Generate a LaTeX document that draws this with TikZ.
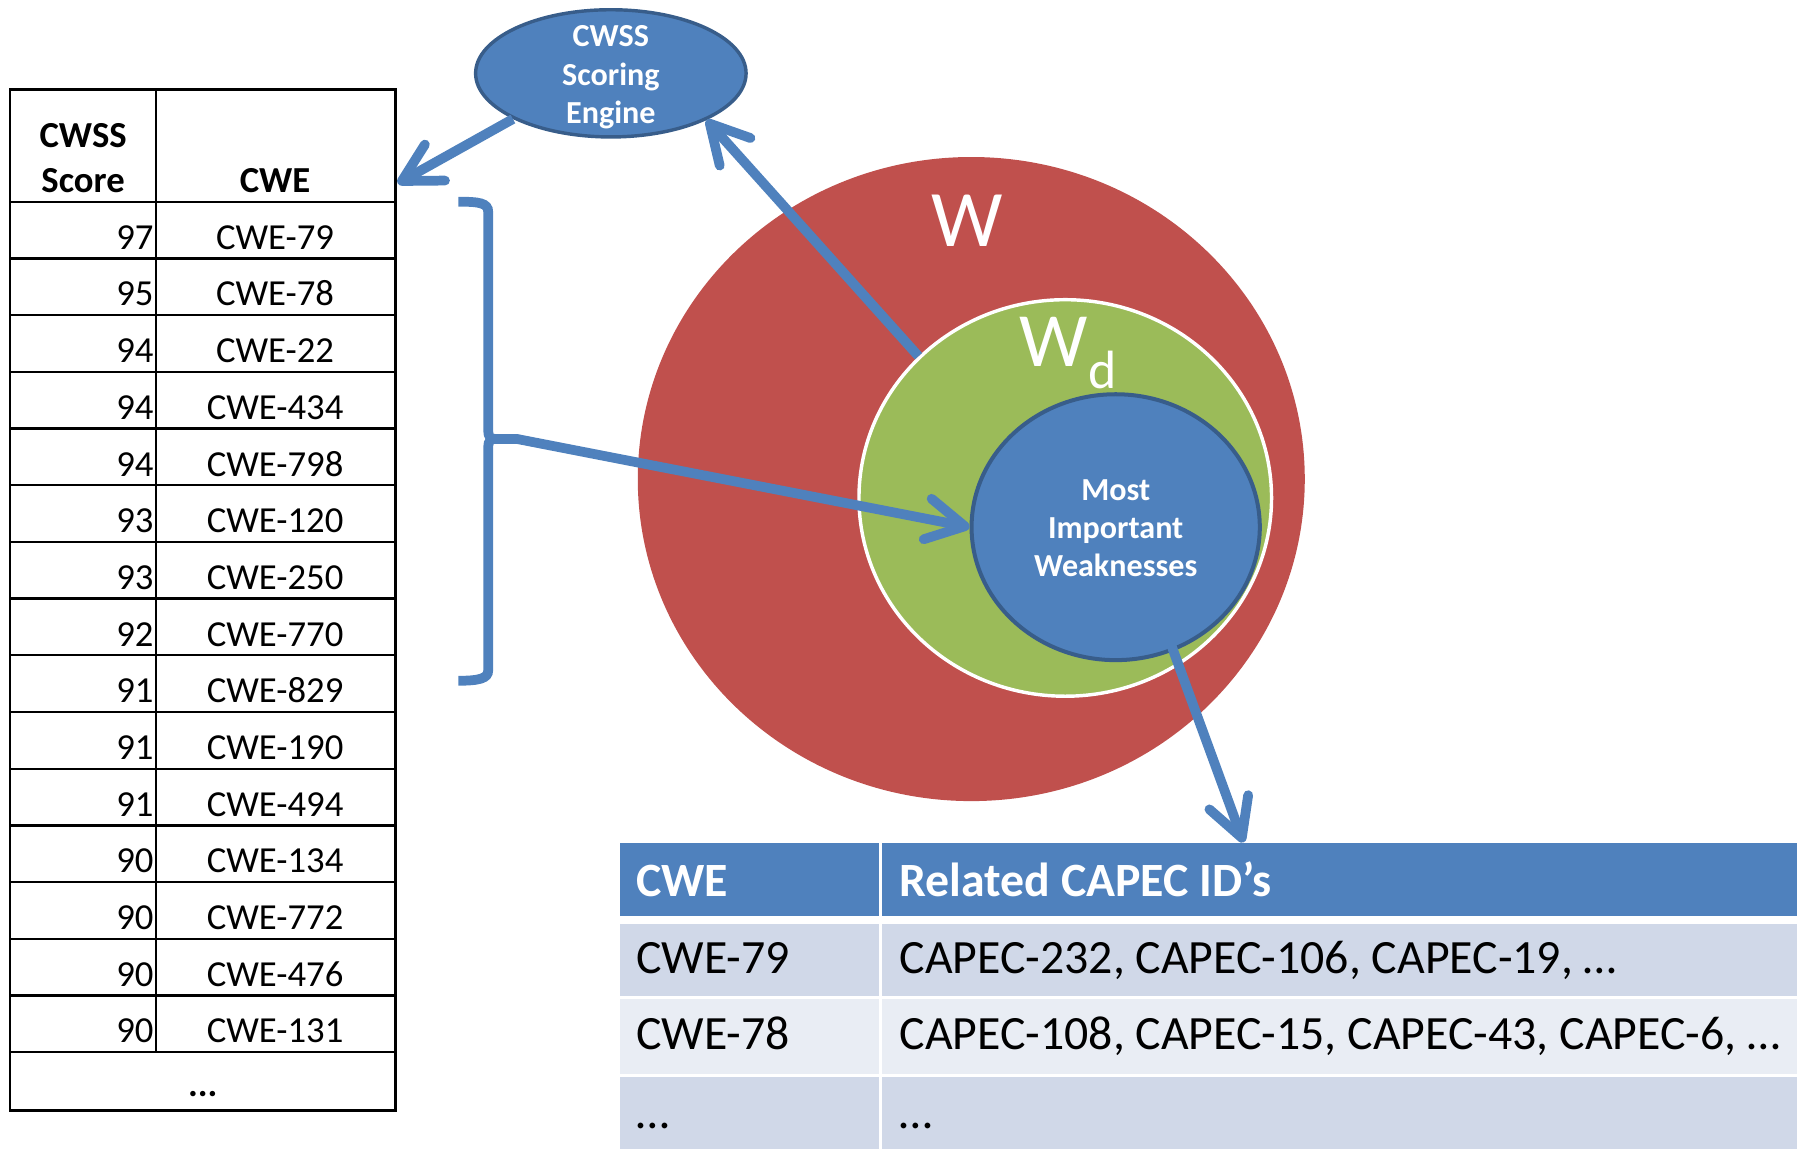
\documentclass[tikz,border=0pt]{standalone}
\usepackage{fontspec}
\setmainfont{Carlito}
\usetikzlibrary{arrows.meta,shapes.geometric}

\definecolor{accblue}{HTML}{4F81BD}
\definecolor{accdark}{HTML}{385D8A}
\definecolor{accred}{HTML}{C0504D}
\definecolor{accgreen}{HTML}{9BBB59}
\definecolor{rowA}{HTML}{D0D8E8}
\definecolor{rowB}{HTML}{E9EDF4}

\begin{document}
\begin{tikzpicture}[x=1pt,y=-1pt,
  txt/.style={inner sep=0pt, outer sep=0pt, anchor=base},
  tabtxt/.style={txt, font=\fontsize{32}{38}\selectfont},
  tabhd/.style={txt, font=\fontsize{32}{38}\selectfont\bfseries},
  captxt/.style={txt, anchor=base west, font=\fontsize{41.7}{48}\selectfont},
  caphd/.style={captxt, text=white, font=\fontsize{41.7}{48}\selectfont\bfseries},
  bubbletxt/.style={txt, text=white, font=\fontsize{28}{33}\selectfont\bfseries},
  setlabel/.style={txt, text=white},
  grid/.style={line width=2pt, black},
  brk/.style={draw=accblue, line width=8.5pt},
  conn/.style={draw=accblue, line width=8.5pt,
    -{Straight Barb[length=33pt,width=36pt,round]}},
  blob/.style={ellipse, inner sep=0pt}]

\useasboundingbox (0,0) rectangle (1568,1003);

% ---------- CWSS score table ----------
\draw[grid] (9,78) rectangle (345,969);
\draw[grid] (136,78) -- (136,918);
\foreach \k in {0,...,15}
  \draw[grid] (9,{176+49.47*\k}) -- (345,{176+49.47*\k});

\node[tabhd] (hscore1) at (72.5,128.5) {CWSS};
\node[tabhd] (hscore2) at (72.5,168) {Score};
\node[tabhd] (hcwe) at (240,168) {CWE};

\foreach [count=\i] \sco/\cwe in {97/CWE-79, 95/CWE-78, 94/CWE-22, 94/CWE-434,
    94/CWE-798, 93/CWE-120, 93/CWE-250, 92/CWE-770, 91/CWE-829, 91/CWE-190,
    91/CWE-494, 90/CWE-134, 90/CWE-772, 90/CWE-476, 90/CWE-131} {
  \node[tabtxt, anchor=base east] (s\i) at (134,{176+49.47*\i-8}) {\sco};
  \node[tabtxt] (c\i) at (240,{176+49.47*\i-8}) {\cwe};
}
\node[tabhd] (more) at (177,957) {...};
\coordinate (tabtip) at (347,160);

% ---------- scoring engine ----------
\node[blob, fill=accblue, draw=accdark, line width=3pt,
      minimum width=236pt, minimum height=111pt] (engine) at (533,64) {};
\node[bubbletxt] (eng1) at (533,41) {CWSS};
\node[bubbletxt] (eng2) at (533,74.5) {Scoring};
\node[bubbletxt] (eng3) at (533,107.5) {Engine};

% ---------- nested weakness sets ----------
\node[blob, fill=accred, minimum width=582pt, minimum height=562pt] (w) at (847.5,418) {};
\node[blob, fill=accgreen, draw=white, line width=3pt,
      minimum width=360pt, minimum height=346pt] (wd) at (929.5,434.5) {};
\node[blob, fill=accblue, draw=accdark, line width=3.5pt,
      minimum width=251.5pt, minimum height=232pt] (miw) at (973.5,460) {};

\node[setlabel, font=\fontsize{70}{80}\selectfont] (wlab) at (844,215) {W};
\node[setlabel, font=\fontsize{67}{80}\selectfont] (wdlab) at (919.5,320) {W};
\node[setlabel, anchor=base west, font=\fontsize{47}{56}\selectfont] (wdsub) at (950,338.6) {d};

\node[bubbletxt] (miw1) at (973.5,436.5) {Most};
\node[bubbletxt] (miw2) at (973.5,469.5) {Important};
\node[bubbletxt] (miw3) at (973.5,503) {Weaknesses};

% ---------- CAPEC table ----------
\fill[accblue] (541,736) rectangle (1568,799);
\fill[rowA] (541,806) rectangle (1568,869);
\fill[rowB] (541,871.5) rectangle (1568,937);
\fill[rowA] (541,939.5) rectangle (1568,1003);
\draw[white, line width=2.6pt] (768,736) -- (768,1003);

\node[caphd] (th1) at (555,782.4) {CWE};
\node[caphd] (th2) at (785,782.4) {Related CAPEC ID’s};
\node[captxt] (r1a) at (555,849) {CWE-79};
\node[captxt] (r1b) at (785,849) {CAPEC-232, CAPEC-106, CAPEC-19, …};
\node[captxt] (r2a) at (555,916) {CWE-78};
\node[captxt] (r2b) at (785,916) {CAPEC-108, CAPEC-15, CAPEC-43, CAPEC-6, …};
\node[captxt] (r3a) at (555,985) {…};
\node[captxt] (r3b) at (785,985) {…};
\coordinate (captip) at (1085,735);

% ---------- bracket over the top rows ----------
\draw[brk] (400,176) .. controls (418,176) and (426,177) .. (426,185)
  -- (426,376) .. controls (426,381) and (428,383) .. (432,383);
\draw[brk] (432,383) .. controls (428,383) and (426,385) .. (426,390)
  -- (426,585) .. controls (426,592) and (418,594) .. (400,594);
\coordinate (bt) at (428,383);

% ---------- connectors ----------
\draw[conn] (engine.205) -- (tabtip);
\draw[conn] (wd.136) -- (engine.-26);
\draw[conn] (bt) -- (451,383) -- (miw.west);
\draw[conn, shorten <=-16pt] (miw.-65) -- (captip);
\end{tikzpicture}
\end{document}
